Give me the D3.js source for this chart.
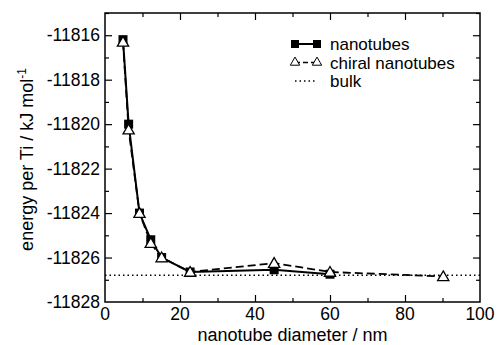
<!DOCTYPE html>
<html>
<head>
<meta charset="utf-8">
<script src="https://cdn.jsdelivr.net/npm/d3@7"></script>
<style>
  html, body { margin: 0; padding: 0; background: #fff; }
  text { font-family: "Liberation Sans", Arial, Helvetica, sans-serif; fill: #000; }
</style>
</head>
<body>
<svg id="chart" width="498" height="345"></svg>
<script>
// Energy per Ti atom versus nanotube diameter
const tubeDiameter   = [4.8, 6.3, 9.2, 12.2, 15.1, 22.7, 45.1, 60.0];
const tubeEnergy     = [-11816.2, -11820.0, -11824.0, -11825.2, -11826.0, -11826.65, -11826.55, -11826.75];
const chiralDiameter = [4.8, 6.3, 9.2, 12.2, 15.1, 22.7, 45.1, 60.0, 90.2];
const chiralEnergy   = [-11816.3, -11820.25, -11824.0, -11825.35, -11826.0, -11826.65, -11826.25, -11826.65, -11826.85];
const bulkEnergy     = -11826.8;

const xTicks = [0, 20, 40, 60, 80, 100];
const yTicks = [-11828, -11826, -11824, -11822, -11820, -11818, -11816];
const xMinorTicks = d3.range(0, 101, 10);
const yMinorTicks = d3.range(-11828, -11814, 1);

const legendLabels = ["nanotubes", "chiral nanotubes", "bulk"];

const svg = d3.select("#chart");
const plotLeft = 105, plotRight = 480, plotTop = 13, plotBottom = 302;

const x = d3.scaleLinear().domain([0, 100]).range([plotLeft, plotRight]);
const y = d3.scaleLinear().domain([-11828, -11815]).range([plotBottom, plotTop]);

const fontSize = 17.5;
const majorLen = 7, minorLen = 4;

// frame
svg.append("rect")
  .attr("x", plotLeft).attr("y", plotTop)
  .attr("width", plotRight - plotLeft).attr("height", plotBottom - plotTop)
  .attr("fill", "none").attr("stroke", "#000").attr("stroke-width", 1.5);

// inward ticks on all four sides
function addAxis(axisFn, scale, tv, len, translate) {
  const g = svg.append("g").attr("transform", translate)
    .call(axisFn(scale).tickValues(tv).tickSize(len).tickFormat(""));
  g.select(".domain").remove();
  g.selectAll(".tick line").attr("stroke", "#000").attr("stroke-width", 1.2);
  return g;
}
const xMinorOnly = xMinorTicks.filter(v => v % 20 !== 0);
const yMinorOnly = yMinorTicks.filter(v => v % 2 !== 0);
const xMajorInner = xTicks.slice(1, -1);
const yMajorInner = yTicks.slice(1);
// bottom: ticks pointing up
addAxis(d3.axisTop, x, xMinorOnly, minorLen, `translate(0,${plotBottom})`);
addAxis(d3.axisTop, x, xMajorInner, majorLen, `translate(0,${plotBottom})`);
// top: ticks pointing down
addAxis(d3.axisBottom, x, xMinorOnly, minorLen, `translate(0,${plotTop})`);
addAxis(d3.axisBottom, x, xMajorInner, majorLen, `translate(0,${plotTop})`);
// left: ticks pointing right
addAxis(d3.axisRight, y, yMinorOnly, minorLen, `translate(${plotLeft},0)`);
addAxis(d3.axisRight, y, yMajorInner, majorLen, `translate(${plotLeft},0)`);
// right: ticks pointing left
addAxis(d3.axisLeft, y, yMinorOnly, minorLen, `translate(${plotRight},0)`);
addAxis(d3.axisLeft, y, yMajorInner, majorLen, `translate(${plotRight},0)`);

// tick labels
svg.append("g").selectAll("text").data(xTicks).join("text")
  .attr("x", d => x(d)).attr("y", plotBottom + 17.5)
  .attr("text-anchor", "middle").attr("font-size", fontSize)
  .text(d => d);
svg.append("g").selectAll("text").data(yTicks).join("text")
  .attr("x", plotLeft - 5).attr("y", d => y(d) + 6)
  .attr("text-anchor", "end").attr("font-size", fontSize)
  .text(d => String(d));

// axis titles
svg.append("text")
  .attr("x", (plotLeft + plotRight) / 2).attr("y", 340.5)
  .attr("text-anchor", "middle").attr("font-size", 18)
  .text("nanotube diameter / nm");
const yt = svg.append("text")
  .attr("transform", `translate(33,${(plotTop + plotBottom) / 2 + 2}) rotate(-90)`)
  .attr("text-anchor", "middle").attr("font-size", 18);
yt.append("tspan").text("energy per Ti / kJ mol");
yt.append("tspan").attr("baseline-shift", "super").attr("font-size", 12).text("-1");

// bulk reference
svg.append("line")
  .attr("x1", plotLeft).attr("x2", plotRight)
  .attr("y1", y(bulkEnergy)).attr("y2", y(bulkEnergy))
  .attr("stroke", "#000").attr("stroke-width", 1.5).attr("stroke-dasharray", "1.5,3");

const line = d3.line().x(d => x(d[0])).y(d => y(d[1]));
const tubes = tubeDiameter.map((d, i) => [d, tubeEnergy[i]]);
const chiral = chiralDiameter.map((d, i) => [d, chiralEnergy[i]]);

svg.append("path").datum(tubes).attr("d", line)
  .attr("fill", "none").attr("stroke", "#000").attr("stroke-width", 2);
svg.append("path").datum(chiral).attr("d", line)
  .attr("fill", "none").attr("stroke", "#000").attr("stroke-width", 1.8)
  .attr("stroke-dasharray", "8,4");

const sq = 9;
svg.append("g").selectAll("rect").data(tubes).join("rect")
  .attr("x", d => x(d[0]) - sq / 2).attr("y", d => y(d[1]) - sq / 2)
  .attr("width", sq).attr("height", sq).attr("fill", "#000");

const tri = d3.symbol().type(d3.symbolTriangle).size(55);
svg.append("g").selectAll("path").data(chiral).join("path")
  .attr("transform", d => `translate(${x(d[0])},${y(d[1]) + 1})`)
  .attr("d", tri).attr("fill", "#fff").attr("stroke", "#000").attr("stroke-width", 1.3);

// legend
const lx1 = 295, lx2 = 317, ltx = 330;
const rows = [44, 62.5, 81];
const lg = svg.append("g");
lg.append("line").attr("x1", lx1).attr("x2", lx2).attr("y1", rows[0]).attr("y2", rows[0])
  .attr("stroke", "#000").attr("stroke-width", 2);
[lx1, lx2].forEach(px => lg.append("rect").attr("x", px - 4).attr("y", rows[0] - 4)
  .attr("width", 8).attr("height", 8).attr("fill", "#000"));
lg.append("line").attr("x1", lx1).attr("x2", lx2).attr("y1", rows[1]).attr("y2", rows[1])
  .attr("stroke", "#000").attr("stroke-width", 1.5).attr("stroke-dasharray", "5,3");
const triSmall = d3.symbol().type(d3.symbolTriangle).size(38);
[lx1, lx2].forEach(px => lg.append("path").attr("transform", `translate(${px},${rows[1]})`)
  .attr("d", triSmall).attr("fill", "#fff").attr("stroke", "#000").attr("stroke-width", 1));
lg.append("line").attr("x1", lx1).attr("x2", lx2).attr("y1", rows[2]).attr("y2", rows[2])
  .attr("stroke", "#000").attr("stroke-width", 1.5).attr("stroke-dasharray", "1.5,3");
lg.selectAll("text.lbl").data(legendLabels).join("text")
  .attr("x", ltx).attr("y", (d, i) => rows[i] + 6)
  .attr("font-size", 17).text(d => d);
</script>
</body>
</html>
